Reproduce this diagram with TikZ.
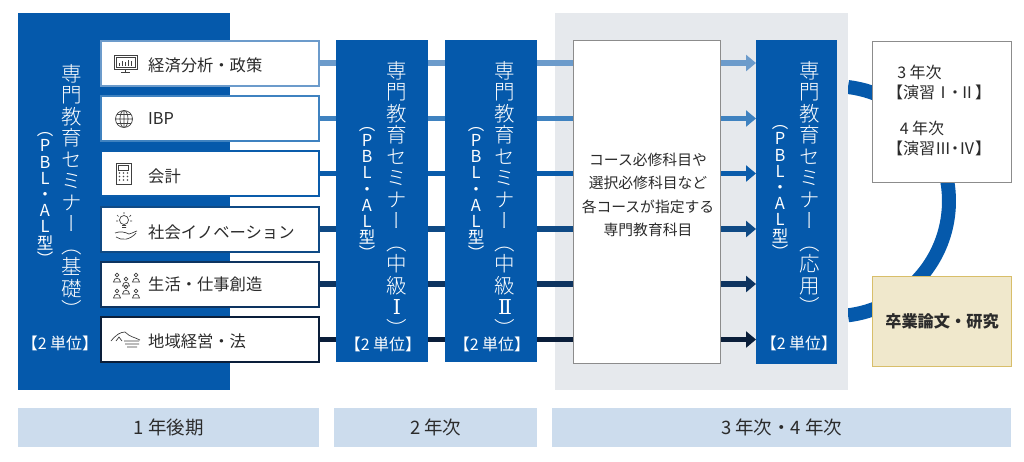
\documentclass[tikz,border=0pt]{standalone}
\usepackage{fontspec}
\setmainfont{Noto Sans CJK JP}
\newfontfamily\vertjp[RawFeature=+vert]{Noto Sans CJK JP Light}
\newfontfamily\vertreg[RawFeature=+vert]{Noto Sans CJK JP}
\newfontfamily\vertroman{DejaVu Serif}
\usetikzlibrary{arrows.meta,backgrounds}
\definecolor{semblue}{HTML}{0559AB}
\definecolor{flowa}{HTML}{6C9BCB}
\definecolor{flowb}{HTML}{3F82C0}
\definecolor{flowc}{HTML}{0A5CAB}
\definecolor{flowd}{HTML}{0F4A85}
\definecolor{flowe}{HTML}{0E3460}
\definecolor{flowf}{HTML}{0A1E3A}
\definecolor{palegray}{HTML}{E6E9ED}
\definecolor{barblue}{HTML}{CCDCED}
\definecolor{thesis}{HTML}{F0E8CC}
\definecolor{thesisline}{HTML}{D8BE6A}
\definecolor{inkgray}{HTML}{2B2B2B}
\tikzset{
  semblock/.style={fill=semblue,inner sep=0pt,anchor=north west},
  semtitle/.style={text=white,align=center,inner sep=0pt,font=\vertjp\fontsize{20.5}{21.5}\selectfont},
  semtype/.style={text=white,align=center,inner sep=0pt,font=\vertreg\fontsize{16.5}{16.2}\selectfont},
  semunit/.style={text=white,inner sep=0pt,font=\fontsize{16}{18}\selectfont},
  coursebox/.style={fill=white,line width=2pt,minimum width=218pt,minimum height=45pt,inner sep=0pt},
  coursename/.style={text=inkgray,anchor=west,inner sep=0pt,font=\fontsize{16.3}{18}\selectfont},
  flowline/.style={line width=5.5pt},
  flowarrow/.style={line width=5.5pt,-{Triangle[length=10pt,width=16pt]}},
  ringline/.style={semblue,line width=14pt},
  grayframe/.style={fill=white,draw=black!45,line width=0.8pt,inner sep=0pt},
  yearbar/.style={fill=barblue,text=inkgray,minimum height=39pt,inner sep=0pt,font=\fontsize{18.5}{20}\selectfont},
  yeartext/.style={text=inkgray,inner sep=0pt,font=\fontsize{16}{18}\selectfont},
  iconline/.style={draw=inkgray!90,line width=0.7pt},
}
\lineskiplimit=-20pt
\begin{document}
\begin{tikzpicture}[x=1pt,y=1pt]
  \useasboundingbox (0,0) rectangle (1024,-461);
  % seminar blocks
  \node[semblock,minimum width=212pt,minimum height=377pt] (kisoblock) at (18,-13) {};
  \node[semblock,minimum width=92pt,minimum height=322pt] (chuablock) at (336,-40) {};
  \node[semblock,minimum width=92pt,minimum height=322pt] (chubblock) at (445,-40) {};
  \node[semblock,minimum width=81pt,minimum height=324pt] (oyoblock) at (756,-40) {};
  % course boxes
  \node[coursebox,draw=flowa] (keizai) at (209.5,-63) {};
  \node[coursebox,draw=flowb] (ibp) at (209.5,-118.5) {};
  \node[coursebox,draw=flowc] (kaikei) at (209.5,-173.5) {};
  \node[coursebox,draw=flowd] (shakai) at (209.5,-229) {};
  \node[coursebox,draw=flowe] (seikatsu) at (209.5,-284) {};
  \node[coursebox,draw=flowf] (chiiki) at (209.5,-339.5) {};
  \node[coursename] at (148,-65) {経済分析・政策};
  \node[coursename] at (148,-119) {IBP};
  \node[coursename] at (148,-176) {会計};
  \node[coursename] at (148,-232) {社会イノベーション};
  \node[coursename] at (148,-284) {生活・仕事創造};
  \node[coursename] at (148,-341) {地域経営・法};
  % seminar texts
  \node[semtitle] (kisotitle) at (72,-191) {専\\門\\教\\育\\セ\\ミ\\ナ\\ー\\（\\基\\礎\\）};
  \node[semtype] (kisotype) at (45,-199) {（\\P\\B\\L\\・\\A\\L\\型\\）};
  \node[semunit] (kisounit) at (60,-343) {【2 単位】};
  \node[semtitle] (chuatitle) at (397,-198.5) {専\\門\\教\\育\\セ\\ミ\\ナ\\ー\\（\\中\\級\\{\vertroman Ⅰ}\\\smash{）}};
  \node[semtype] (chuatype) at (367,-193.5) {（\\P\\B\\L\\・\\A\\L\\型\\）};
  \node[semunit] (chuaunit) at (383,-344) {【2 単位】};
  \node[semtitle] (chubtitle) at (505,-198.5) {専\\門\\教\\育\\セ\\ミ\\ナ\\ー\\（\\中\\級\\{\vertroman Ⅱ}\\\smash{）}};
  \node[semtype] (chubtype) at (476,-193.5) {（\\P\\B\\L\\・\\A\\L\\型\\）};
  \node[semunit] (chubunit) at (492,-344) {【2 単位】};
  \node[semtitle] (oyotitle) at (810,-188) {専\\門\\教\\育\\セ\\ミ\\ナ\\ー\\（\\応\\用\\）};
  \node[semtype] (oyotype) at (780,-192) {（\\P\\B\\L\\・\\A\\L\\型\\）};
  \node[semunit] (oyounit) at (799,-343) {【2 単位】};
  % centre box and right column
  \node[grayframe,anchor=north west,minimum width=147pt,minimum height=323pt] (coreframe) at (573,-40) {};
  \node[text=inkgray,align=center,inner sep=0pt,font=\fontsize{14.8}{23.4}\selectfont] (coretext) at (648,-195) {コース必修科目や\\選択必修科目など\\各コースが指定する\\専門教育科目};
  \node[grayframe,anchor=north west,minimum width=139pt,minimum height=141pt] (enshu) at (872,-41) {};
  \node[yeartext] (enshua) at (919.5,-72) {3 年次};
  \node[yeartext] (enshub) at (939,-92) {【演習Ⅰ\kern-4pt・\kern-4ptⅡ】};
  \node[yeartext] (enshuc) at (922,-128) {4 年次};
  \node[yeartext] (enshud) at (939,-148) {【演習Ⅲ\kern-4pt・\kern-4ptⅣ】};
  \node[fill=thesis,draw=thesisline,line width=1pt,anchor=north west,minimum width=139pt,minimum height=90pt,inner sep=0pt,text=inkgray,font=\fontsize{16.2}{18}\selectfont\bfseries] (sotsuron) at (872,-276) {卒業論文・研究};
  % year bars
  \node[yearbar,anchor=north west,minimum width=301pt] (barone) at (18,-408) {1 年後期};
  \node[yearbar,anchor=north west,minimum width=203pt] (bartwo) at (334,-408) {2 年次};
  \node[yearbar,anchor=north west,minimum width=459pt] (barthree) at (552,-408) {3 年次・4 年次};
  % icons
  \draw[iconline] (114,-55) rectangle (137,-69) (116,-57) rectangle (135,-67) (121,-72) -- (130,-72) (125.5,-69) -- (125.5,-72);
  \foreach \xb/\hb in {119/3,122/5,125/4,128/6,131/5} \draw[iconline] (\xb,-66) -- ++(0,\hb);
  \draw[iconline] (124,-119) circle (8.5) (124,-119) ellipse (4 and 8.5) (115.5,-119) -- (132.5,-119) (117,-114.5) -- (131,-114.5) (117,-123.5) -- (131,-123.5) (124,-110.5) -- (124,-127.5);
  \draw[iconline] (116,-163) rectangle (131,-184) (118.5,-165.5) rectangle (128.5,-170);
  \foreach \xb in {119.5,123.5,127.5} \foreach \yb in {-173,-176.5,-180} \fill[inkgray!85] (\xb,\yb) circle (0.9);
  \draw[iconline] (124,-220) circle (4.5) (122,-225.5) -- (126,-225.5) (122,-227.5) -- (126,-227.5) (124,-212) -- (124,-214) (117,-215) -- (118.5,-216.5) (131,-215) -- (129.5,-216.5) (116,-221) -- (118,-221) (132,-221) -- (130,-221);
  \draw[iconline] (115,-233) .. controls (120,-231) and (125,-232) .. (129,-234) .. controls (133,-233) and (136,-231) .. (137,-231) (116,-237) .. controls (122,-241) and (130,-240) .. (136,-233);
  \foreach \xb/\yb in {117/-275,126/-279,136/-275,117/-291,126/-287,136/-291} {
    \draw[iconline] (\xb,\yb) circle (1.9);
    \draw[iconline] (\xb-3.5,\yb-7) .. controls (\xb-3,\yb-2) and (\xb+3,\yb-2) .. (\xb+3.5,\yb-7) -- cycle;
  }
  \draw[iconline] (111,-341) .. controls (116,-335) and (120,-332) .. (125,-332) .. controls (130,-337) and (134,-337) .. (140,-340) (116,-341) -- (119,-337) -- (122,-341) (124,-341) -- (139,-341) (125,-344) -- (139,-344) (127,-347) -- (137,-347);
  % connectors go behind everything
  \begin{pgfonlayer}{background}
    \coordinate (ringtop) at (848,-87);
    \draw[ringline] (ringtop) arc[start angle=83,end angle=-83,radius=115];
    \node[fill=palegray,inner sep=0pt,anchor=north west,minimum width=293pt,minimum height=377pt] (coursearea) at (555,-13) {};
    \foreach \src/\col in {keizai/flowa,ibp/flowb,kaikei/flowc,shakai/flowd,seikatsu/flowe,chiiki/flowf} {
      \draw[flowline,\col] (\src.east) -- (\src.east -| coreframe.west);
      \draw[flowarrow,\col] (\src.east -| coreframe.east) -- (\src.east -| oyoblock.west);
    }
  \end{pgfonlayer}
\end{tikzpicture}
\end{document}
